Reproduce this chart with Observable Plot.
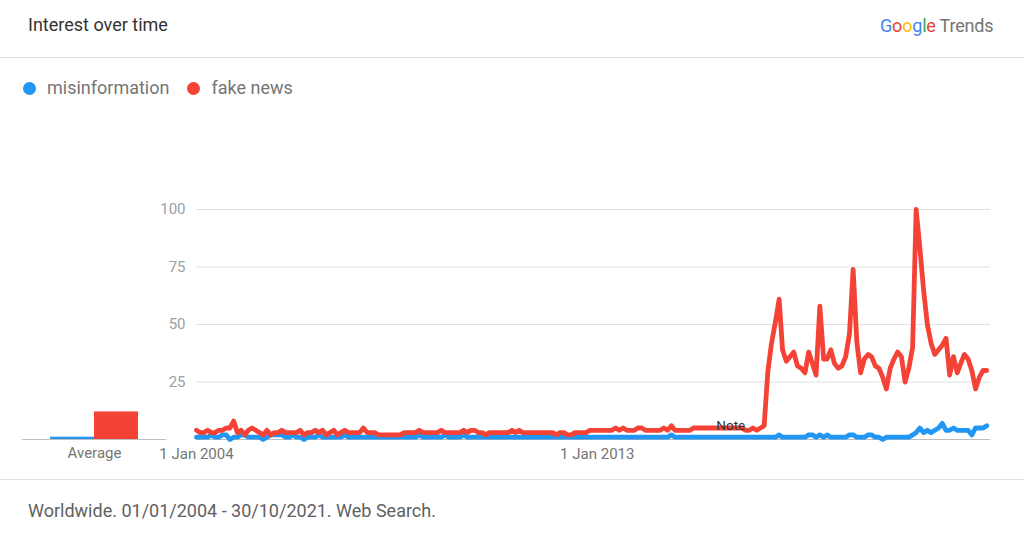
<!DOCTYPE html>
<html>
<head>
<meta charset="utf-8">
<script src="https://cdn.jsdelivr.net/npm/d3@7"></script>
<script src="https://cdn.jsdelivr.net/npm/@observablehq/plot@0.6"></script>
<style>
  html, body { margin: 0; padding: 0; background: #fff; }
  body { font-family: Roboto, "Open Sans", Arial, sans-serif; }
  #page { position: relative; width: 1024px; height: 541px; overflow: hidden; background: #fff; }
  .abs { position: absolute; white-space: nowrap; }
  .hr { position: absolute; left: 0; width: 1024px; height: 1px; background: #e0e0e0; }
  #title { left: 28px; top: 14px; font-size: 18px; line-height: 22px; color: #333; }
  #logo { left: 880px; top: 15px; font-size: 18px; line-height: 22px; letter-spacing: -0.2px; }
  #legend { left: 23px; top: 77px; font-size: 18px; line-height: 22px; color: #757575; display: flex; align-items: center; }
  #legend .item { display: flex; align-items: center; margin-right: 18px; }
  #legend .dot { width: 13px; height: 13px; border-radius: 50%; margin-right: 11px; }
  #footer { left: 28px; top: 500px; font-size: 18px; line-height: 22px; color: #616161; }
  svg.plotsvg { position: absolute; top: 0; left: 0; }
</style>
</head>
<body>
<div id="page">
  <div id="title" class="abs">Interest over time</div>
  <div id="logo" class="abs"></div>
  <div class="hr" style="top:57px"></div>
  <div id="legend" class="abs"></div>
  <div class="hr" style="top:479px"></div>
  <div id="footer" class="abs"></div>
</div>
<script>
// ---------- data ----------
const titleText = "Interest over time";
const footerText = "Worldwide. 01/01/2004 - 30/10/2021. Web Search.";
const seriesNames = ["misinformation", "fake news"];
const seriesColors = ["#2196f3", "#f44336"];
const averages = [1, 12];
const averageLabel = "Average";
const startMonth = "2004-01-01";
const yTicks = [25, 50, 75, 100];
const xTickDates = ["2004-01-01", "2013-01-01"];
const xTickLabels = ["1 Jan 2004", "1 Jan 2013"];
const noteDate = "2016-01-01";
const noteLabel = "Note";

// monthly values, Jan 2004 .. Oct 2021 (one row per year)
const misinformation = [
  1,1,1,1,2,1,1,2,2,0,1,1,
  2,2,1,1,1,1,0,1,2,2,2,2,
  1,1,2,1,1,0,1,1,1,2,1,1,
  1,1,1,1,2,1,1,1,1,1,1,1,
  1,1,1,1,1,1,1,1,1,1,1,1,
  2,1,1,1,1,1,1,2,1,1,1,1,
  2,1,1,1,1,1,1,1,1,1,1,1,
  1,1,1,1,1,1,1,1,1,1,1,1,
  1,1,1,1,1,1,1,1,1,1,1,1,
  1,1,1,1,1,1,1,1,1,1,1,1,
  1,1,1,1,1,1,1,1,2,1,1,1,
  1,1,1,1,1,1,1,1,1,1,1,1,
  1,1,1,1,1,1,1,1,1,1,1,1,
  1,2,1,1,1,1,1,1,1,2,2,1,
  2,1,2,1,1,1,1,1,2,2,1,1,
  1,2,2,1,1,0,1,1,1,1,1,1,
  1,2,3,5,3,4,3,4,5,7,4,4,
  5,4,4,4,4,2,5,5,5,6
];
const fakeNews = [
  4,3,3,4,3,3,4,4,5,5,8,3,
  4,2,4,5,4,3,2,4,2,3,3,4,
  3,3,3,3,4,2,3,3,4,3,4,2,
  3,4,2,3,4,3,3,3,3,5,3,3,
  3,2,2,2,2,2,2,2,3,3,3,3,
  4,3,3,3,3,3,4,3,3,3,3,3,
  4,3,4,4,3,3,2,3,3,3,3,3,
  3,4,3,4,3,3,3,3,3,3,3,3,
  3,2,3,3,2,2,3,3,3,3,4,4,
  4,4,4,4,4,5,4,5,4,4,4,5,
  5,4,4,4,4,4,5,4,6,4,4,4,
  4,4,5,5,5,5,5,5,5,5,5,5,
  5,5,5,5,4,4,5,4,5,6,30,42,
  51,61,39,34,36,38,32,31,29,38,33,28,
  58,35,35,39,33,31,32,36,46,74,42,29,
  35,37,36,32,31,27,22,31,35,38,36,25,
  31,40,100,83,65,50,42,37,39,41,44,28,
  36,29,33,37,35,30,22,27,30,30
];

// ---------- header / legend / footer ----------
const logoParts = [["G","#4285f4"],["o","#ea4335"],["o","#fbbc05"],["g","#4285f4"],["l","#34a853"],["e","#ea4335"]];
const logo = document.getElementById("logo");
logoParts.forEach(([ch, c]) => { const s = document.createElement("span"); s.textContent = ch; s.style.color = c; logo.appendChild(s); });
const tr = document.createElement("span"); tr.textContent = " Trends"; tr.style.color = "#757575"; logo.appendChild(tr);

document.getElementById("title").textContent = titleText;
document.getElementById("footer").textContent = footerText;
const legend = document.getElementById("legend");
seriesNames.forEach((n, i) => {
  const it = document.createElement("div"); it.className = "item";
  const d = document.createElement("div"); d.className = "dot"; d.style.background = seriesColors[i];
  const t = document.createElement("span"); t.textContent = n;
  it.appendChild(d); it.appendChild(t); legend.appendChild(it);
});

// ---------- tidy rows ----------
const t0 = new Date(startMonth + "T00:00:00Z");
const rows = [];
[misinformation, fakeNews].forEach((arr, s) => {
  arr.forEach((v, i) => rows.push({series: seriesNames[s], date: d3.utcMonth.offset(t0, i), value: v}));
});
const tickDates = xTickDates.map(d => new Date(d + "T00:00:00Z"));

const baseStyle = {fontFamily: "Roboto, 'Open Sans', sans-serif", fontSize: "15px", background: "transparent", overflow: "visible"};

// ---------- main chart ----------
const main = Plot.plot({
  width: 1024, height: 541,
  marginLeft: 196, marginRight: 34, marginTop: 209, marginBottom: 102,
  style: baseStyle,
  x: {type: "utc", domain: [t0, d3.utcMonth.offset(t0, fakeNews.length)], label: null},
  y: {domain: [0, 100], label: null},
  marks: [
    Plot.gridY(yTicks, {stroke: "#e0e0e0", strokeOpacity: 1}),
    Plot.ruleY([0], {stroke: "#bdbdbd"}),
    Plot.axisY(yTicks, {tickSize: 0, tickPadding: 11, fill: "#9aa0a6", fontSize: 15, label: null}),
    Plot.axisX(tickDates, {tickSize: 0, tickPadding: 9, fill: "#757575", fontSize: 15, label: null,
      tickFormat: d => xTickLabels[tickDates.findIndex(t => +t === +d)]}),
    Plot.ruleX([new Date(noteDate + "T00:00:00Z")], {y1: 0, y2: 1.5, stroke: "#9e9e9e"}),
    Plot.line(rows.filter(r => r.series === seriesNames[0]), {x: "date", y: "value", stroke: seriesColors[0], strokeWidth: 4.8, strokeLinejoin: "round"}),
    Plot.line(rows.filter(r => r.series === seriesNames[1]), {x: "date", y: "value", stroke: seriesColors[1], strokeWidth: 4.8, strokeLinejoin: "round"}),
    Plot.text([new Date(noteDate + "T00:00:00Z")], {x: d => d, frameAnchor: "bottom", dy: -10, text: () => noteLabel, fill: "#333", fontSize: 13.5})
  ]
});
main.classList.add("plotsvg");

// ---------- average bars ----------
const avgRows = seriesNames.map((n, i) => ({series: n, value: averages[i]}));
const avg = Plot.plot({
  width: 200, height: 541,
  marginLeft: 22, marginRight: 34, marginTop: 209, marginBottom: 102,
  style: baseStyle,
  x: {type: "band", domain: seriesNames, paddingInner: 0, paddingOuter: 0.636, axis: null},
  y: {domain: [0, 100], axis: null},
  marks: [
    Plot.ruleY([0], {stroke: "#bdbdbd"}),
    Plot.barY(avgRows, {x: "series", y: "value", fill: (d) => seriesColors[seriesNames.indexOf(d.series)]}),
    Plot.text([averageLabel], {frameAnchor: "bottom", dy: 8, lineAnchor: "top", fill: "#757575", fontSize: 15})
  ]
});
avg.classList.add("plotsvg");

const page = document.getElementById("page");
page.appendChild(avg);
page.appendChild(main);
</script>
</body>
</html>
